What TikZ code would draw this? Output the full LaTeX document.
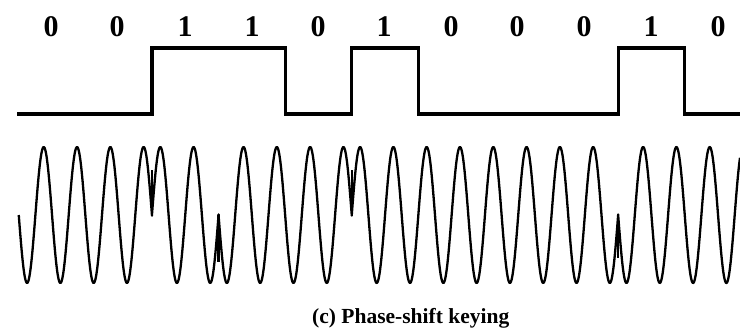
\documentclass[tikz,border=0pt]{standalone}
\usepackage{fontspec}
\setmainfont{Liberation Serif}
\usepackage{tikz}
\usetikzlibrary{positioning}

\begin{document}
\begin{tikzpicture}[x=1pt,y=-1pt,every node/.style={align=center,inner sep=0pt,font=\fontsize{30}{30}\selectfont\bfseries},
  level/.style={line width=3.3pt},
  carrier/.style={line width=2.3pt,line join=round}]
  \useasboundingbox (0,0) rectangle (740,332);
  \node (b0) at (51,26.5) {0};
  \node (b1) at (117,26.5) {0};
  \node (b2) at (185,26.5) {1};
  \node (b3) at (252,26.5) {1};
  \node (b4) at (318,26.5) {0};
  \node (b5) at (384,26.5) {1};
  \node (b6) at (451,26.5) {0};
  \node (b7) at (517,26.5) {0};
  \node (b8) at (584,26.5) {0};
  \node (b9) at (651,26.5) {1};
  \node (b10) at (718,26.5) {0};
  \draw[level] (17,114) -- (152,114) -- (152,48) -- (285.2,48) -- (285.2,114) -- (351.8,114)
    -- (351.8,48) -- (418.4,48) -- (418.4,114) -- (618.2,114) -- (618.2,48) -- (684.8,48)
    -- (684.8,114) -- (740,114);
  \draw[carrier] plot[domain=18.75:152,samples=241] (\x,{215+68*sin(10.8108*(\x-18.75))})
    -- plot[domain=152:218.6,samples=121] (\x,{215-68*sin(10.8108*(\x-18.75))})
    -- plot[domain=218.6:351.8,samples=241] (\x,{215+68*sin(10.8108*(\x-18.75))})
    -- plot[domain=351.8:618.2,samples=481] (\x,{215-68*sin(10.8108*(\x-18.75))})
    -- plot[domain=618.2:740,samples=221] (\x,{215+68*sin(10.8108*(\x-18.75))});
  \draw[carrier] (152,215) -- (152,170);
  \draw[carrier] (218.6,215) -- (218.6,262);
  \draw[carrier] (351.8,215) -- (351.8,170);
  \draw[carrier] (618.2,215) -- (618.2,258);
  \node[anchor=west,font=\fontsize{21.5}{21.5}\selectfont\bfseries] (cap) at (312,318.5) {(c) Phase-shift keying};
\end{tikzpicture}
\end{document}
